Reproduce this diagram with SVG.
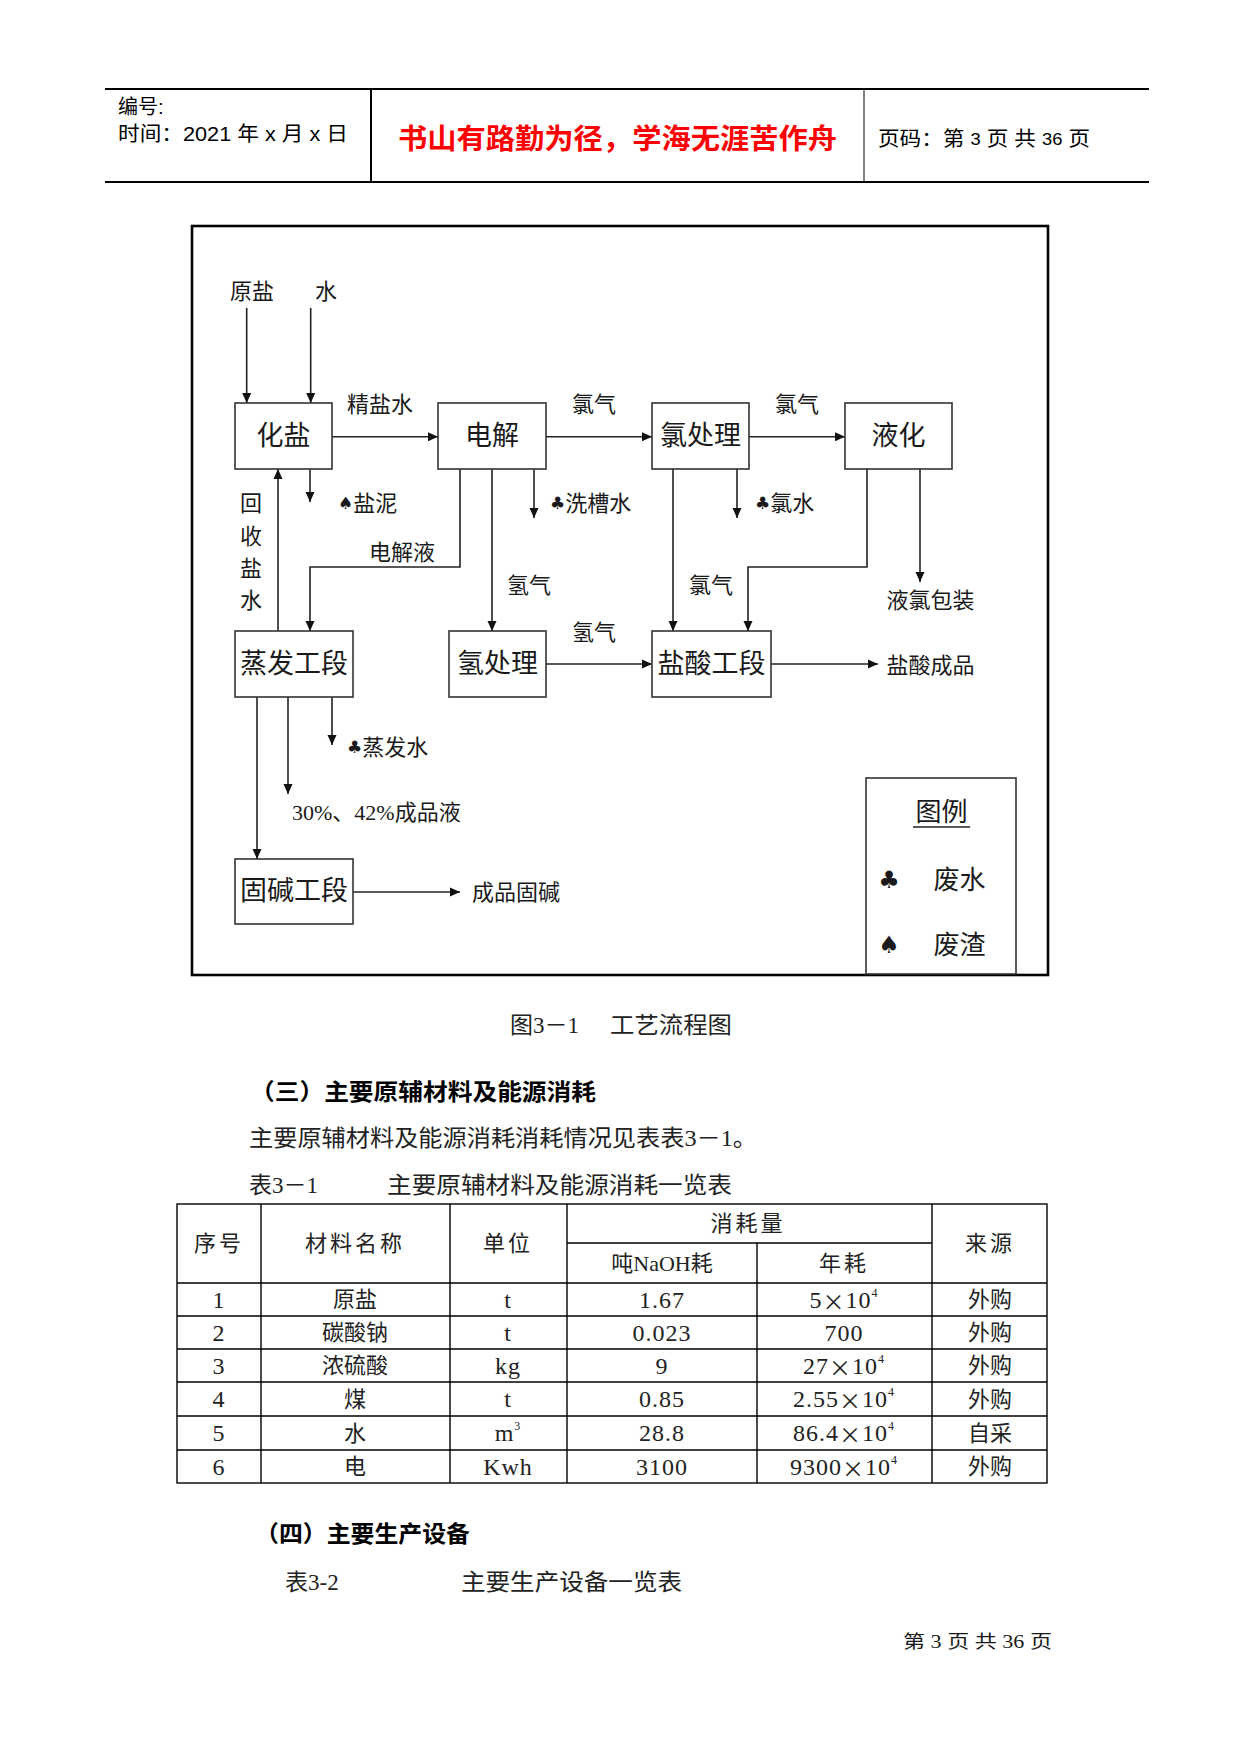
<svg xmlns="http://www.w3.org/2000/svg" width="1241" height="1754" viewBox="0 0 1241 1754">
<defs>
<style>
text{font-family:"Liberation Serif","Noto Sans CJK SC",serif;fill:#1a1a1a;dominant-baseline:central}
.hd{font-family:"Liberation Sans Narrow","Liberation Sans","Noto Sans CJK SC",sans-serif;font-size:20px;fill:#000}
.red{font-family:"Noto Sans CJK SC",sans-serif;font-size:28px;font-weight:bold;fill:#ff0000}
.box{fill:#fff;stroke:#333;stroke-width:1.6}
.bt{font-size:27px;text-anchor:middle}
.lb{font-size:22px}
.lc{font-size:22px;text-anchor:middle}
.suit{font-family:"DejaVu Sans",sans-serif;font-size:17px}
.lsuit{font-family:"DejaVu Sans",sans-serif;font-size:24px;text-anchor:middle}
.arr{fill:none;stroke:#222;stroke-width:1.6;marker-end:url(#ah)}
.tl{stroke:#000;stroke-width:1.4;fill:none}
.tt{font-size:22px;text-anchor:middle;fill:#222}
.tn{font-size:24px;letter-spacing:1px}
.x{font-family:"Noto Sans CJK SC",sans-serif;font-size:22px}
.body{font-size:23px;fill:#222}
.bold{font-family:"Noto Sans CJK SC",sans-serif;font-size:23px;font-weight:bold;fill:#000}
</style>
<marker id="ah" viewBox="0 0 10 10" refX="10" refY="5" markerWidth="10" markerHeight="10" markerUnits="userSpaceOnUse" orient="auto">
<path d="M0,0.5 L10,5 L0,9.5 Z" fill="#111"/>
</marker>
</defs>
<rect width="1241" height="1754" fill="#fff"/>

<g id="header">
<line x1="105" y1="89" x2="1149" y2="89" stroke="#000" stroke-width="2"/>
<line x1="105" y1="182" x2="1149" y2="182" stroke="#000" stroke-width="2"/>
<line x1="371" y1="89" x2="371" y2="182" stroke="#000" stroke-width="2"/>
<line x1="864" y1="89" x2="864" y2="182" stroke="#000" stroke-width="1"/>
<text class="hd" x="118" y="107">编号:</text>
<text class="hd" x="118" y="134" textLength="230" lengthAdjust="spacingAndGlyphs">时间：2021 年 x 月 x 日</text>
<text class="red" x="398" y="137" textLength="439" lengthAdjust="spacingAndGlyphs">书山有路勤为径，学海无涯苦作舟</text>
<text class="hd" x="878" y="139" textLength="212" lengthAdjust="spacingAndGlyphs">页码：第 <tspan font-size="17">3</tspan> 页  共 <tspan font-size="17">36</tspan> 页</text>
</g>

<g id="frame">
<rect x="192" y="226" width="856" height="749" fill="none" stroke="#000" stroke-width="2.6"/>
</g>

<g id="connectors">
<line class="arr" x1="246.7" y1="308" x2="246.7" y2="403"/>
<line class="arr" x1="310.7" y1="308" x2="310.7" y2="403"/>
<line class="arr" x1="332" y1="436.7" x2="438" y2="436.7"/>
<line class="arr" x1="546" y1="436.7" x2="652" y2="436.7"/>
<line class="arr" x1="749" y1="436.7" x2="845" y2="436.7"/>
<line class="arr" x1="310" y1="469" x2="310" y2="502"/>
<line class="arr" x1="278" y1="631" x2="278" y2="469"/>
<polyline class="arr" points="460,469 460,567 310,567 310,631"/>
<line class="arr" x1="492" y1="469" x2="492" y2="631"/>
<line class="arr" x1="534" y1="469" x2="534" y2="518"/>
<line class="arr" x1="673" y1="469" x2="673" y2="631"/>
<line class="arr" x1="737" y1="469" x2="737" y2="518"/>
<polyline class="arr" points="867,469 867,567 748,567 748,631"/>
<line class="arr" x1="920" y1="469" x2="920" y2="582"/>
<line class="arr" x1="546" y1="664" x2="652" y2="664"/>
<line class="arr" x1="771" y1="664" x2="878" y2="664"/>
<line class="arr" x1="257" y1="697" x2="257" y2="859"/>
<line class="arr" x1="288" y1="697" x2="288" y2="794"/>
<line class="arr" x1="332" y1="697" x2="332" y2="745"/>
<line class="arr" x1="353" y1="892" x2="460" y2="892"/>
</g>

<g id="n-huayan"><rect class="box" x="235" y="403" width="97" height="66"/><text class="bt" x="283.5" y="436">化盐</text></g>
<g id="n-dianjie"><rect class="box" x="438" y="403" width="108" height="66"/><text class="bt" x="492" y="436">电解</text></g>
<g id="n-lvchuli"><rect class="box" x="652" y="403" width="97" height="66"/><text class="bt" x="700.5" y="436">氯处理</text></g>
<g id="n-yehua"><rect class="box" x="845" y="403" width="107" height="66"/><text class="bt" x="898.5" y="436">液化</text></g>
<g id="n-zhengfa"><rect class="box" x="235" y="631" width="118" height="66"/><text class="bt" x="294" y="664">蒸发工段</text></g>
<g id="n-qingchuli"><rect class="box" x="449" y="631" width="97" height="66"/><text class="bt" x="497.5" y="664">氢处理</text></g>
<g id="n-yansuan"><rect class="box" x="652" y="631" width="119" height="66"/><text class="bt" x="711.5" y="664">盐酸工段</text></g>
<g id="n-gujian"><rect class="box" x="235" y="859" width="118" height="65"/><text class="bt" x="294" y="891">固碱工段</text></g>

<g id="labels">
<text class="lc" x="252" y="291">原盐</text>
<text class="lc" x="326" y="291">水</text>
<text class="lc" x="380" y="404">精盐水</text>
<text class="lc" x="594" y="404">氯气</text>
<text class="lc" x="797" y="404">氯气</text>
<text class="lb" x="338" y="503"><tspan class="suit">♠</tspan>盐泥</text>
<text class="lb" x="550" y="503"><tspan class="suit">♣</tspan>洗槽水</text>
<text class="lb" x="755" y="503"><tspan class="suit">♣</tspan>氯水</text>
<text class="lc" x="402" y="552">电解液</text>
<text class="lc" x="251" y="503">回</text>
<text class="lc" x="251" y="536">收</text>
<text class="lc" x="251" y="568">盐</text>
<text class="lc" x="251" y="600">水</text>
<text class="lc" x="529" y="585">氢气</text>
<text class="lc" x="711" y="585">氯气</text>
<text class="lc" x="930.5" y="600">液氯包装</text>
<text class="lc" x="594" y="632">氢气</text>
<text class="lc" x="930.5" y="665">盐酸成品</text>
<text class="lb" x="347" y="747"><tspan class="suit">♣</tspan>蒸发水</text>
<text class="lb" x="292" y="812" font-size="23">30%、42%成品液</text>
<text class="lb" x="472" y="892">成品固碱</text>
</g>

<g id="legend">
<rect class="box" x="866" y="778" width="150" height="196"/>
<text x="941.5" y="812" font-size="26" text-anchor="middle">图例</text>
<line x1="913" y1="827" x2="970" y2="827" stroke="#222" stroke-width="1.4"/>
<text class="lsuit" x="889" y="880">♣</text>
<text x="959.5" y="880" font-size="26" text-anchor="middle">废水</text>
<text class="lsuit" x="889" y="945">♠</text>
<text x="959.5" y="945" font-size="26" text-anchor="middle">废渣</text>
</g>

<g id="text-body">
<text class="body" x="510" y="1025">图3－1</text>
<text class="body" x="610" y="1025" textLength="122" lengthAdjust="spacingAndGlyphs">工艺流程图</text>
<text class="bold" x="250" y="1090" textLength="346" lengthAdjust="spacingAndGlyphs">（三）主要原辅材料及能源消耗</text>
<text class="body" x="249" y="1138" textLength="508" lengthAdjust="spacingAndGlyphs">主要原辅材料及能源消耗消耗情况见表表3－1。</text>
<text class="body" x="249" y="1185">表3－1</text>
<text class="body" x="387" y="1185" textLength="345" lengthAdjust="spacingAndGlyphs">主要原辅材料及能源消耗一览表</text>
<text class="bold" x="255" y="1532" textLength="215" lengthAdjust="spacingAndGlyphs">（四）主要生产设备</text>
<text class="body" x="285" y="1582">表3-2</text>
<text class="body" x="461" y="1582" textLength="221" lengthAdjust="spacingAndGlyphs">主要生产设备一览表</text>
<text x="903" y="1642" font-size="18" textLength="149" lengthAdjust="spacingAndGlyphs" fill="#222">第 3 页 共 36 页</text>
</g>

<g id="table">
<rect class="tl" x="177" y="1204" width="870" height="279"/>
<line class="tl" x1="261" y1="1204" x2="261" y2="1483"/>
<line class="tl" x1="450" y1="1204" x2="450" y2="1483"/>
<line class="tl" x1="567" y1="1204" x2="567" y2="1483"/>
<line class="tl" x1="932" y1="1204" x2="932" y2="1483"/>
<line class="tl" x1="757" y1="1243" x2="757" y2="1483"/>
<line class="tl" x1="567" y1="1243" x2="932" y2="1243"/>
<line class="tl" x1="177" y1="1283" x2="1047" y2="1283"/>
<line class="tl" x1="177" y1="1316" x2="1047" y2="1316"/>
<line class="tl" x1="177" y1="1349" x2="1047" y2="1349"/>
<line class="tl" x1="177" y1="1382" x2="1047" y2="1382"/>
<line class="tl" x1="177" y1="1416" x2="1047" y2="1416"/>
<line class="tl" x1="177" y1="1450" x2="1047" y2="1450"/>
<text class="tt" x="219" y="1243" letter-spacing="3">序号</text>
<text class="tt" x="355" y="1243" letter-spacing="3">材料名称</text>
<text class="tt" x="508" y="1243" letter-spacing="3">单位</text>
<text class="tt" x="748" y="1223" letter-spacing="3">消耗量</text>
<text class="tt" x="662" y="1263">吨NaOH耗</text>
<text class="tt" x="844" y="1263" letter-spacing="3">年耗</text>
<text class="tt" x="990" y="1243" letter-spacing="3">来源</text>

<text class="tt tn" x="219" y="1299.5">1</text><text class="tt" x="355" y="1299.5">原盐</text><text class="tt tn" x="508" y="1299.5">t</text><text class="tt tn" x="662" y="1299.5">1.67</text><text class="tt tn" x="844" y="1299.5">5<tspan class="x">×</tspan>10<tspan font-size="12" dy="-7">4</tspan></text><text class="tt" x="990" y="1299.5">外购</text>
<text class="tt tn" x="219" y="1332.5">2</text><text class="tt" x="355" y="1332.5">碳酸钠</text><text class="tt tn" x="508" y="1332.5">t</text><text class="tt tn" x="662" y="1332.5">0.023</text><text class="tt tn" x="844" y="1332.5">700</text><text class="tt" x="990" y="1332.5">外购</text>
<text class="tt tn" x="219" y="1365.5">3</text><text class="tt" x="355" y="1365.5">浓硫酸</text><text class="tt tn" x="508" y="1365.5">kg</text><text class="tt tn" x="662" y="1365.5">9</text><text class="tt tn" x="844" y="1365.5">27<tspan class="x">×</tspan>10<tspan font-size="12" dy="-7">4</tspan></text><text class="tt" x="990" y="1365.5">外购</text>
<text class="tt tn" x="219" y="1399">4</text><text class="tt" x="355" y="1399">煤</text><text class="tt tn" x="508" y="1399">t</text><text class="tt tn" x="662" y="1399">0.85</text><text class="tt tn" x="844" y="1399">2.55<tspan class="x">×</tspan>10<tspan font-size="12" dy="-7">4</tspan></text><text class="tt" x="990" y="1399">外购</text>
<text class="tt tn" x="219" y="1433">5</text><text class="tt" x="355" y="1433">水</text><text class="tt tn" x="508" y="1433">m<tspan font-size="12" dy="-7">3</tspan></text><text class="tt tn" x="662" y="1433">28.8</text><text class="tt tn" x="844" y="1433">86.4<tspan class="x">×</tspan>10<tspan font-size="12" dy="-7">4</tspan></text><text class="tt" x="990" y="1433">自采</text>
<text class="tt tn" x="219" y="1466.5">6</text><text class="tt" x="355" y="1466.5">电</text><text class="tt tn" x="508" y="1466.5">Kwh</text><text class="tt tn" x="662" y="1466.5">3100</text><text class="tt tn" x="844" y="1466.5">9300<tspan class="x">×</tspan>10<tspan font-size="12" dy="-7">4</tspan></text><text class="tt" x="990" y="1466.5">外购</text>
</g>
</svg>
